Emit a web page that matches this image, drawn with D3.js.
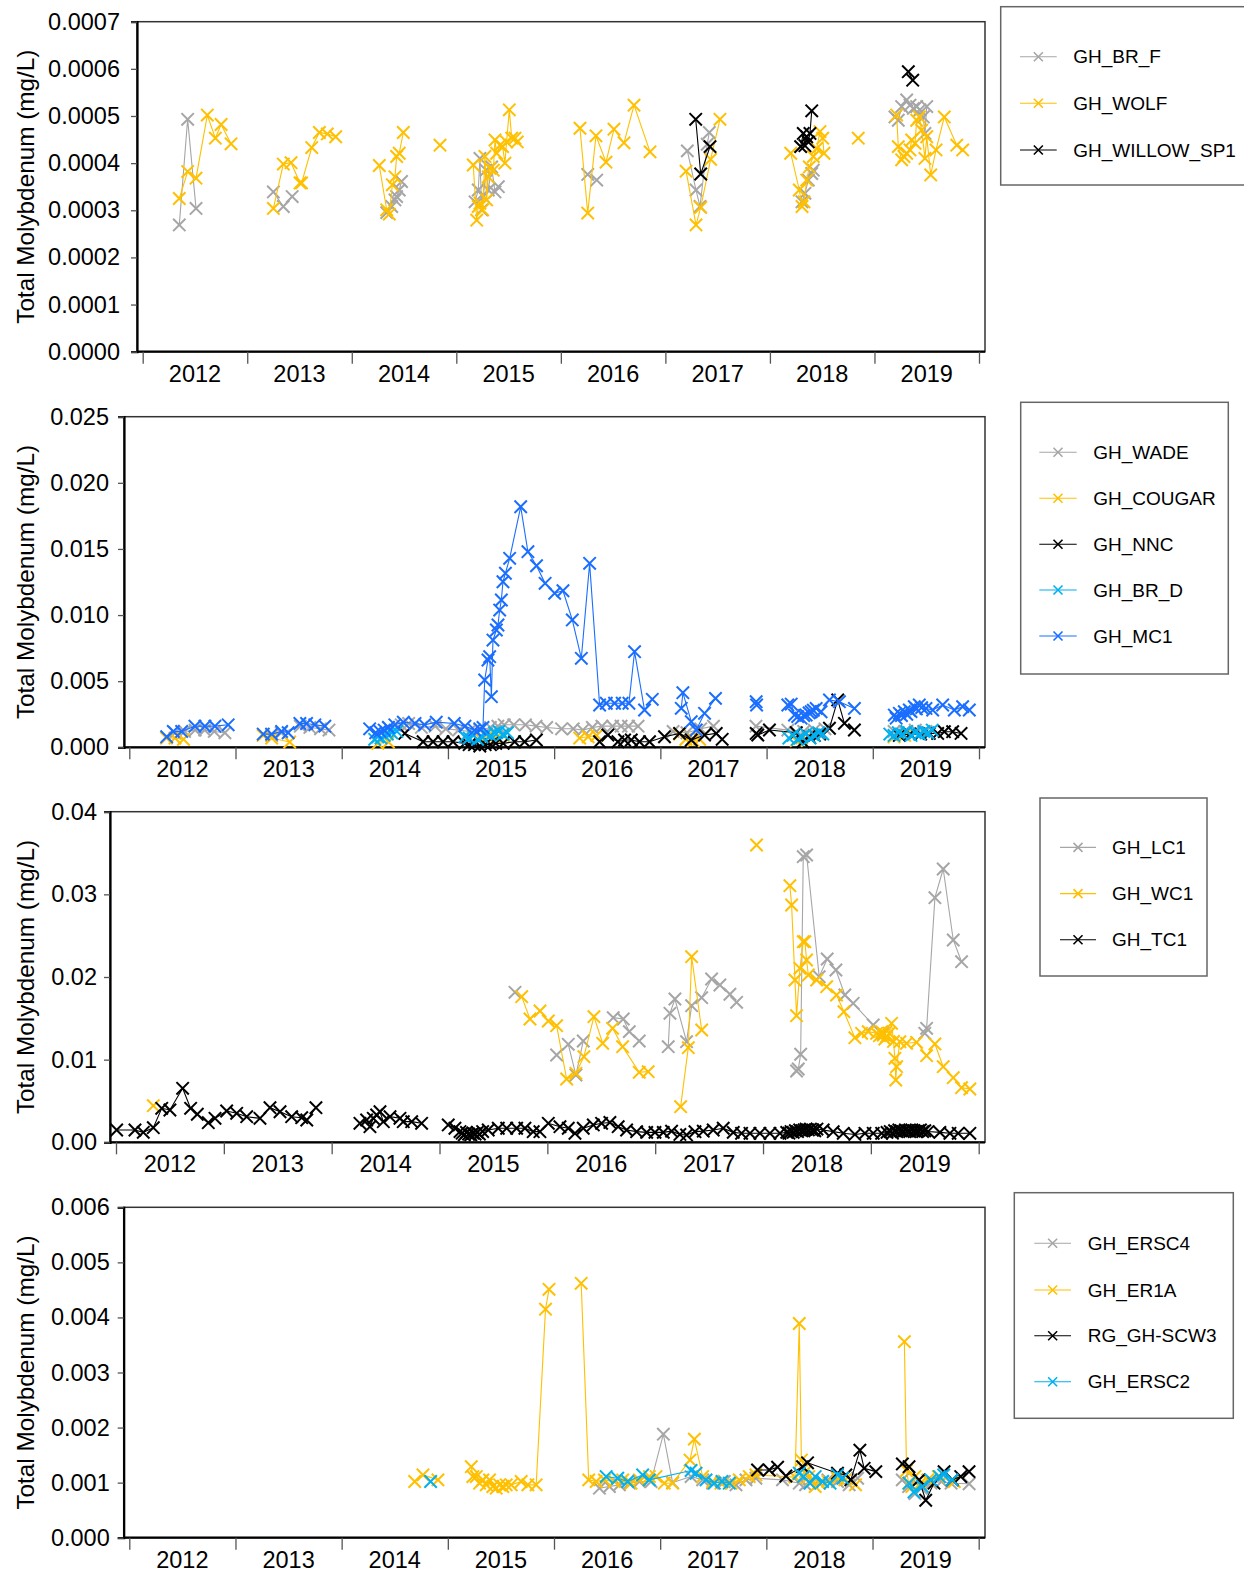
<!DOCTYPE html>
<html>
<head>
<meta charset="utf-8">
<script src="https://cdn.jsdelivr.net/npm/d3@7"></script>
<style>
  body { margin: 0; background: #fff; }
  svg { display: block; font-family: "Liberation Sans", Arial, sans-serif; }
</style>
</head>
<body>
<svg id="chart" width="1244" height="1574"></svg>
<script>
// ---- Axis labels -------------------------------------------------------
const yearLabels = ["2012", "2013", "2014", "2015", "2016", "2017", "2018", "2019"];
const yTitle = "Total Molybdenum (mg/L)";
const ticksP1 = [0, 0.0001, 0.0002, 0.0003, 0.0004, 0.0005, 0.0006, 0.0007];
const ticksP2 = [0, 0.005, 0.010, 0.015, 0.020, 0.025];
const ticksP3 = [0, 0.01, 0.02, 0.03, 0.04];
const ticksP4 = [0, 0.001, 0.002, 0.003, 0.004, 0.005, 0.006];

// ---- Panel 1 : [decimal year, mg/L], null = gap in sampling ------------
const GH_BR_F = [
  [2012.35,0.000269],[2012.43,0.000493],[2012.51,0.000304], null,
  [2013.25,0.000339],[2013.345,0.000308],[2013.43,0.000329], null,
  [2014.334,0.000295],[2014.382,0.000308],[2014.413,0.000322],[2014.429,0.000329],[2014.454,0.000343],[2014.476,0.000361], null,
  [2015.179,0.000318],[2015.21,0.000343],[2015.226,0.00041],[2015.243,0.000301],[2015.258,0.000329],[2015.284,0.000385],[2015.306,0.000343],[2015.338,0.000392],[2015.37,0.000339],[2015.402,0.00035], null,
  [2016.257,0.000376],[2016.343,0.000364], null,
  [2017.21,0.000426],[2017.293,0.000343],[2017.331,0.000308],[2017.40,0.00044],[2017.42,0.000465], null,
  [2018.307,0.000318],[2018.335,0.000336],[2018.367,0.000364],[2018.40,0.000378],[2018.415,0.000385], null,
  [2019.196,0.000498],[2019.228,0.000491],[2019.26,0.00052],[2019.308,0.000534],[2019.34,0.000523],[2019.372,0.000516],[2019.404,0.00052],[2019.435,0.000513],[2019.467,0.000498],[2019.483,0.000463],[2019.5,0.00052]
];
const GH_WOLF = [
  [2012.35,0.000325],[2012.43,0.000382],[2012.51,0.000368],[2012.618,0.000502],[2012.695,0.000453],[2012.75,0.000482],[2012.845,0.000441], null,
  [2013.25,0.000304],[2013.345,0.000398],[2013.419,0.000401],[2013.505,0.000358],[2013.52,0.000358],[2013.617,0.000433],[2013.69,0.000465],[2013.766,0.000462],[2013.846,0.000456], null,
  [2014.263,0.000395],[2014.334,0.000301],[2014.359,0.000292],[2014.388,0.000354],[2014.413,0.000371],[2014.429,0.000414],[2014.454,0.000421],[2014.493,0.000465], null,
  [2014.844,0.000438], null,
  [2015.162,0.000396],[2015.195,0.000279],[2015.21,0.000308],[2015.226,0.000315],[2015.252,0.000301],[2015.274,0.000414],[2015.29,0.000322],[2015.306,0.000371],[2015.322,0.000389],[2015.354,0.000385],[2015.37,0.000449],[2015.386,0.000421],[2015.418,0.000438],[2015.443,0.000435],[2015.465,0.0004],[2015.481,0.000445],[2015.507,0.000513],[2015.53,0.000453],[2015.561,0.000453],[2015.583,0.000445], null,
  [2016.183,0.000474],[2016.257,0.000294],[2016.336,0.000458],[2016.432,0.000402],[2016.508,0.000472],[2016.604,0.000443],[2016.70,0.000523],[2016.853,0.000424], null,
  [2017.198,0.000383],[2017.293,0.000269],[2017.338,0.000306],[2017.433,0.000408],[2017.522,0.000493], null,
  [2018.199,0.000421],[2018.281,0.000343],[2018.307,0.000308],[2018.326,0.000318],[2018.352,0.000364],[2018.377,0.000392],[2018.415,0.000414],[2018.447,0.000431],[2018.479,0.000467],[2018.505,0.000453],[2018.517,0.000421], null,
  [2018.845,0.000453], null,
  [2019.212,0.000502],[2019.228,0.000435],[2019.26,0.000407],[2019.282,0.000414],[2019.308,0.000421],[2019.34,0.000428],[2019.356,0.000449],[2019.388,0.000442],[2019.404,0.000491],[2019.429,0.000498],[2019.451,0.00047],[2019.483,0.00041],[2019.5,0.000456],[2019.538,0.000375],[2019.589,0.000428],[2019.668,0.000498],[2019.787,0.000438],[2019.844,0.000428]
];
const GH_WILLOW_SP1 = [
  [2017.29,0.000493],[2017.338,0.000377],[2017.427,0.000435], null,
  [2018.294,0.000435],[2018.319,0.000463],[2018.335,0.000437],[2018.352,0.000456],[2018.367,0.000445],[2018.383,0.000463],[2018.40,0.000511], null,
  [2019.324,0.000594],[2019.366,0.000576]
];

// ---- Panel 2 -----------------------------------------------------------
const GH_WADE = [
  [2012.43,0.0011],[2012.52,0.0012],[2012.62,0.0013],[2012.71,0.0013],[2012.80,0.0012],[2012.90,0.0011], null,
  [2013.34,0.0009],[2013.43,0.0011],[2013.61,0.0016],[2013.70,0.0015],[2013.80,0.0014],[2013.88,0.0013], null,
  [2014.44,0.0015],[2014.56,0.0017],[2014.63,0.0018],[2014.75,0.0015],[2014.88,0.0016],[2014.98,0.0014],[2015.10,0.0013],[2015.20,0.0012],[2015.30,0.0013],[2015.40,0.0015],[2015.47,0.0016],[2015.53,0.0017],[2015.62,0.0017],[2015.73,0.0017],[2015.83,0.0016],[2015.93,0.0015],[2016.07,0.0014],[2016.18,0.0014],[2016.27,0.0013],[2016.36,0.0015],[2016.45,0.0016],[2016.55,0.0016],[2016.63,0.0016],[2016.70,0.0016],[2016.79,0.0016], null,
  [2017.12,0.0012],[2017.25,0.0011],[2017.38,0.0014],[2017.50,0.0016], null,
  [2017.90,0.0016],[2018.20,0.0013],[2018.27,0.0011],[2018.35,0.0012],[2018.45,0.0013],[2018.55,0.0014], null,
  [2019.20,0.0012],[2019.30,0.0012],[2019.40,0.0013],[2019.50,0.0012]
];
const GH_COUGAR = [
  [2012.35,0.0007],[2012.43,0.0007],[2012.51,0.0006], null,
  [2013.26,0.0009],[2013.34,0.0007],[2013.51,0.0004], null,
  [2014.34,0.0003],[2014.44,0.0004], null,
  [2015.30,0.0007],[2015.38,0.0008],[2015.45,0.0007],[2015.52,0.0009], null,
  [2016.24,0.0007],[2016.32,0.0008],[2016.40,0.0009], null,
  [2017.18,0.0010],[2017.24,0.0006],[2017.31,0.0005],[2017.37,0.0006], null,
  [2018.28,0.0005],[2018.33,0.0007],[2018.40,0.0008], null,
  [2019.20,0.0008],[2019.30,0.0009]
];
const GH_NNC = [
  [2014.594,0.00105],[2014.766,0.00042],[2014.86,0.00042],[2014.954,0.00042],[2015.048,0.00042],[2015.158,0.0003],[2015.20,0.0002],[2015.25,0.0002],[2015.30,0.0001],[2015.35,0.0002],[2015.40,0.0002],[2015.45,0.0003],[2015.52,0.0003],[2015.628,0.00042],[2015.722,0.00042],[2015.833,0.00055], null,
  [2016.428,0.00042],[2016.506,0.00093],[2016.60,0.00042],[2016.663,0.00055],[2016.726,0.00055],[2016.804,0.00042],[2016.898,0.00042],[2017.039,0.0008],[2017.181,0.00105],[2017.291,0.00055],[2017.416,0.00093],[2017.526,0.00105],[2017.582,0.0006], null,
  [2017.902,0.00105],[2017.917,0.00093],[2018.027,0.00131],[2018.28,0.0011],[2018.341,0.00042],[2018.40,0.0008],[2018.45,0.0009],[2018.50,0.0010],[2018.592,0.00144],[2018.67,0.00358],[2018.733,0.00181],[2018.827,0.00131], null,
  [2019.25,0.0009],[2019.35,0.0010],[2019.45,0.0010],[2019.532,0.00105],[2019.611,0.00105],[2019.674,0.00118],[2019.752,0.00118],[2019.831,0.00105]
];
const GH_BR_D = [
  [2014.31,0.0006],[2014.34,0.0008],[2014.37,0.0007],[2014.40,0.0009],[2014.43,0.0010],[2014.47,0.0011],[2014.52,0.0012], null,
  [2015.16,0.0008],[2015.20,0.0007],[2015.24,0.0009],[2015.28,0.0006],[2015.32,0.0008],[2015.36,0.0010],[2015.40,0.0009],[2015.44,0.0011],[2015.48,0.0012],[2015.52,0.0010],[2015.56,0.0011], null,
  [2018.21,0.0007],[2018.25,0.0009],[2018.29,0.0006],[2018.33,0.0008],[2018.37,0.0010],[2018.41,0.0007],[2018.45,0.0009],[2018.49,0.0011],[2018.53,0.0010], null,
  [2019.16,0.0010],[2019.20,0.0009],[2019.24,0.0011],[2019.28,0.0010],[2019.32,0.0012],[2019.36,0.0009],[2019.40,0.0011],[2019.44,0.0010],[2019.48,0.0012],[2019.52,0.0011],[2019.56,0.0013]
];
const GH_MC1 = [
  [2012.352,0.0008],[2012.414,0.0012],[2012.493,0.0012],[2012.618,0.0016],[2012.712,0.0016],[2012.806,0.0016],[2012.931,0.0017], null,
  [2013.261,0.0010],[2013.34,0.0010],[2013.434,0.0012],[2013.496,0.0011],[2013.606,0.0018],[2013.669,0.0018],[2013.747,0.0017],[2013.841,0.0016], null,
  [2014.263,0.0014],[2014.32,0.0011],[2014.36,0.0012],[2014.40,0.0013],[2014.44,0.0015],[2014.50,0.0017],[2014.58,0.0019],[2014.69,0.0018],[2014.78,0.0017],[2014.89,0.0019],[2015.06,0.0018],[2015.16,0.0016],[2015.25,0.0013],[2015.30,0.0014],[2015.33,0.0015],
  [2015.346,0.00509],[2015.377,0.0066],[2015.393,0.00685],[2015.409,0.00383],[2015.424,0.00811],[2015.456,0.00887],[2015.471,0.00925],[2015.487,0.01038],[2015.503,0.01114],[2015.518,0.01252],[2015.541,0.01316],[2015.581,0.01429],[2015.685,0.01819],[2015.753,0.01479],[2015.834,0.01373],[2015.915,0.0124],[2016.005,0.01165],[2016.083,0.01184],[2016.171,0.00963],[2016.256,0.00673],[2016.334,0.01391],[2016.428,0.0032],[2016.491,0.00333],[2016.569,0.00333],[2016.641,0.00333],[2016.704,0.00333],[2016.757,0.00723],[2016.851,0.00282],[2016.924,0.00363], null,
  [2017.197,0.00295],[2017.212,0.00413],[2017.291,0.00194],[2017.338,0.00131],[2017.416,0.00257],[2017.519,0.0037], null,
  [2017.902,0.00345],[2017.906,0.0032], null,
  [2018.20,0.0032],[2018.232,0.00327],[2018.263,0.00244],[2018.293,0.00232],[2018.325,0.0022],[2018.35,0.0024],[2018.373,0.00244],[2018.40,0.0026],[2018.42,0.00269],[2018.44,0.0028],[2018.467,0.00294],[2018.513,0.00269],[2018.592,0.00358],[2018.686,0.00345],[2018.827,0.00294], null,
  [2019.203,0.00244],[2019.22,0.0022],[2019.25,0.00257],[2019.27,0.0024],[2019.297,0.00269],[2019.32,0.0025],[2019.344,0.00282],[2019.36,0.0027],[2019.391,0.00307],[2019.41,0.0029],[2019.438,0.0032],[2019.46,0.0030],[2019.501,0.00294],[2019.564,0.00282],[2019.658,0.0032],[2019.768,0.00282],[2019.846,0.00307],[2019.909,0.00282]
];

// ---- Panel 3 -----------------------------------------------------------
const GH_LC1 = [
  [2015.70,0.01815], null,
  [2016.086,0.01056],[2016.194,0.01185],[2016.265,0.00814],[2016.333,0.01226], null,
  [2016.611,0.01508],[2016.704,0.01492],[2016.76,0.01339],[2016.852,0.01226], null,
  [2017.121,0.01157],[2017.137,0.01561],[2017.183,0.01734],[2017.291,0.01218],[2017.338,0.01653],[2017.431,0.0175],[2017.523,0.01976],[2017.60,0.01903],[2017.693,0.01791],[2017.755,0.01694], null,
  [2018.311,0.00863],[2018.327,0.00887],[2018.349,0.01065],[2018.373,0.03456],[2018.404,0.03476],[2018.521,0.02004],[2018.595,0.02218],[2018.676,0.02085],[2018.759,0.01782],[2018.836,0.01682],[2019.022,0.01419],[2019.115,0.01319], null,
  [2019.50,0.01319],[2019.517,0.01379],[2019.594,0.0296],[2019.671,0.03307],[2019.764,0.02448],[2019.841,0.02185]
];
const GH_WC1 = [
  [2012.346,0.00443], null,
  [2015.762,0.01762],[2015.839,0.01492],[2015.932,0.01589],[2016.009,0.01468],[2016.086,0.01411],[2016.179,0.00766],[2016.265,0.00835],[2016.339,0.01036],[2016.432,0.0152],[2016.513,0.01198],[2016.605,0.01379],[2016.698,0.01157],[2016.852,0.00847],[2016.935,0.00855], null,
  [2017.236,0.00431],[2017.307,0.01145],[2017.338,0.02246],[2017.431,0.01359], null,
  [2017.94,0.03597], null,
  [2018.249,0.03105],[2018.265,0.02871],[2018.296,0.01964],[2018.311,0.01532],[2018.342,0.02105],[2018.373,0.02427],[2018.388,0.02427],[2018.404,0.02206],[2018.42,0.02024],[2018.497,0.01964],[2018.59,0.01883],[2018.682,0.01782],[2018.75,0.0158],[2018.852,0.01266],[2018.914,0.01319],[2018.976,0.01339],[2019.053,0.01319],[2019.08,0.0129],[2019.10,0.0134],[2019.115,0.01298],[2019.13,0.0125],[2019.146,0.01279],[2019.17,0.0132],[2019.192,0.0144],[2019.21,0.0122],[2019.223,0.01016],[2019.231,0.00754],[2019.239,0.00915],[2019.269,0.01218],[2019.331,0.01198],[2019.424,0.0121],[2019.517,0.01048],[2019.594,0.0119],[2019.671,0.00915],[2019.764,0.00782],[2019.841,0.00661],[2019.918,0.00645]
];
const GH_TC1 = [
  [2012.006,0.00149],[2012.176,0.00149],[2012.253,0.00121],[2012.346,0.00177],[2012.424,0.00411],[2012.50,0.00391],[2012.618,0.00653],[2012.692,0.00411],[2012.754,0.00339],[2012.856,0.00237],[2012.918,0.0029],[2013.026,0.00379],[2013.119,0.00351],[2013.212,0.0031],[2013.335,0.0029],[2013.428,0.00419],[2013.521,0.0037],[2013.629,0.0031],[2013.722,0.00298],[2013.769,0.0027],[2013.854,0.00419], null,
  [2014.262,0.0023],[2014.324,0.0027],[2014.355,0.00189],[2014.386,0.0029],[2014.417,0.0033],[2014.448,0.0037],[2014.479,0.0025],[2014.541,0.0031],[2014.633,0.0029],[2014.664,0.0025],[2014.742,0.0025],[2014.834,0.0023], null,
  [2015.081,0.0021],[2015.143,0.0017],[2015.19,0.0013],[2015.21,0.0011],[2015.23,0.0009],[2015.25,0.0012],[2015.27,0.0010],[2015.29,0.0009],[2015.31,0.0011],[2015.33,0.0010],[2015.35,0.0012],[2015.37,0.0010],[2015.40,0.0013],[2015.452,0.00149],[2015.545,0.0017],[2015.623,0.0017],[2015.715,0.0017],[2015.792,0.0017],[2015.869,0.00129],[2015.931,0.00129],[2016.009,0.0023],
  [2016.117,0.00189],[2016.194,0.0017],[2016.256,0.00109],[2016.333,0.0017],[2016.426,0.0021],[2016.503,0.0023],[2016.58,0.0024],[2016.657,0.00189],[2016.735,0.00149],[2016.828,0.00129],[2016.921,0.0012],[2016.998,0.0012],[2017.075,0.0012],[2017.152,0.00135],[2017.229,0.00095],[2017.291,0.00089],[2017.369,0.00129],[2017.446,0.00135],[2017.538,0.00149],[2017.631,0.0017],[2017.724,0.0012],[2017.801,0.00109],[2017.879,0.00109],[2017.971,0.00109],[2018.064,0.00109],[2018.157,0.00109],
  [2018.22,0.0012],[2018.24,0.0011],[2018.26,0.0013],[2018.28,0.0012],[2018.30,0.0014],[2018.32,0.0013],[2018.34,0.0015],[2018.36,0.0014],[2018.38,0.0015],[2018.40,0.0016],[2018.42,0.0015],[2018.44,0.0016],[2018.46,0.0015],[2018.48,0.0014],[2018.50,0.0016],[2018.558,0.00149],[2018.651,0.00129],[2018.744,0.00109],[2018.852,0.00095],[2018.945,0.00109],[2019.022,0.00109],[2019.10,0.00109],
  [2019.15,0.0012],[2019.18,0.0013],[2019.20,0.0011],[2019.22,0.0014],[2019.24,0.0013],[2019.26,0.0015],[2019.28,0.0014],[2019.30,0.0013],[2019.32,0.0015],[2019.34,0.0014],[2019.36,0.0013],[2019.38,0.0015],[2019.40,0.0014],[2019.42,0.0013],[2019.44,0.0014],[2019.46,0.0015],[2019.48,0.0013],[2019.50,0.0014],[2019.53,0.0013],[2019.64,0.0012],[2019.733,0.00109],[2019.81,0.00109],[2019.918,0.00109]
];

// ---- Panel 4 -----------------------------------------------------------
const GH_ERSC4 = [
  [2016.428,0.0009],[2016.522,0.00093],[2016.616,0.00096],[2016.71,0.00099],[2016.804,0.00102],[2016.914,0.00102],[2017.03,0.00188],[2017.117,0.001],[2017.291,0.00111],[2017.40,0.00105],[2017.494,0.00099],[2017.604,0.00102],[2017.714,0.00096],[2017.808,0.00105],[2017.902,0.00108],[2018.152,0.00105],[2018.31,0.00099],[2018.37,0.00096],[2018.43,0.00102],[2018.50,0.00099],[2018.58,0.00105],[2018.67,0.00102],[2018.78,0.00096],[2018.86,0.00108], null,
  [2019.28,0.00105],[2019.34,0.00093],[2019.40,0.00080],[2019.46,0.00090],[2019.55,0.00099],[2019.65,0.00102],[2019.74,0.00099],[2019.91,0.00098]
];
const GH_ER1A = [
  [2014.688,0.00102],[2014.766,0.00114],[2014.907,0.00105], null,
  [2015.221,0.00129],[2015.236,0.00111],[2015.268,0.00111],[2015.299,0.00099],[2015.33,0.00105],[2015.362,0.00096],[2015.393,0.00105],[2015.424,0.00093],[2015.456,0.0009],[2015.487,0.00096],[2015.518,0.00093],[2015.55,0.00096],[2015.597,0.00096],[2015.691,0.00102],[2015.754,0.00096],[2015.832,0.00096],[2015.92,0.00415],[2015.953,0.00451], null,
  [2016.256,0.00462],[2016.327,0.00105],[2016.397,0.00102],[2016.475,0.00105],[2016.569,0.00102],[2016.647,0.00105],[2016.726,0.00099],[2016.804,0.00105],[2016.898,0.00111],[2016.961,0.00111],[2017.039,0.00099],[2017.117,0.00099],[2017.281,0.00141],[2017.322,0.00179],[2017.40,0.00111],[2017.494,0.00102],[2017.573,0.00099],[2017.667,0.00099],[2017.745,0.00105],[2017.839,0.00111],[2017.902,0.00114],[2018.27,0.0011],[2018.31,0.00389],[2018.33,0.00141],[2018.37,0.0012],[2018.40,0.00111],[2018.43,0.00105],[2018.46,0.00093],[2018.50,0.00099],[2018.58,0.00102],[2018.67,0.00108],[2018.74,0.00105],[2018.84,0.00096], null,
  [2019.30,0.00356],[2019.32,0.00122],[2019.34,0.00099],[2019.37,0.00093],[2019.40,0.00111],[2019.45,0.00099],[2019.52,0.00105],[2019.62,0.00111],[2019.77,0.00102]
];
const RG_GH_SCW3 = [
  [2017.917,0.00123],[2018.027,0.00123],[2018.106,0.00128],[2018.184,0.00112],[2018.341,0.00129],[2018.388,0.00136],[2018.67,0.00117],[2018.749,0.00114],[2018.796,0.00105],[2018.881,0.00159],[2018.921,0.00126],[2019.031,0.0012], null,
  [2019.281,0.00134],[2019.344,0.00129],[2019.438,0.00105],[2019.501,0.00068],[2019.579,0.00099],[2019.674,0.0012],[2019.752,0.00105],[2019.831,0.00111],[2019.909,0.0012]
];
const GH_ERSC2 = [
  [2014.838,0.00102], null,
  [2016.491,0.00111],[2016.60,0.00108],[2016.694,0.00102],[2016.835,0.00114],[2016.898,0.00105],[2017.291,0.00122],[2017.338,0.00117],[2017.432,0.00105],[2017.51,0.00099],[2017.582,0.00102],[2017.651,0.00099], null,
  [2018.31,0.00117],[2018.35,0.00111],[2018.41,0.00099],[2018.46,0.00111],[2018.53,0.00102],[2018.60,0.00099],[2018.67,0.00114],[2018.72,0.00108], null,
  [2019.344,0.00099],[2019.39,0.00083],[2019.47,0.00093],[2019.55,0.00105],[2019.63,0.00111],[2019.67,0.00114],[2019.75,0.00105]
];

// ---- Styling -------------------------------------------------------------
const GRAY = "#a6a6a6", GOLD = "#ffc000", BLACK = "#000000", CYAN = "#00b0f0", BLUE = "#1a6eff";

const panels = [
  { box: { left: 137, top: 21.7, right: 985, bottom: 351.7 }, x2012: 142.7, x2020: 979,
    yMax: 0.0007, ticks: ticksP1, fmt: ".4f", pad: 11,
    legend: { x: 1000.7, y: 6.7, w: 262, h: 178.3, l0: 1020, l1: 1056.7, tx: 1073.3, rows: [56.7, 103.3, 150] },
    series: [["GH_BR_F", GH_BR_F, GRAY], ["GH_WOLF", GH_WOLF, GOLD], ["GH_WILLOW_SP1", GH_WILLOW_SP1, BLACK]] },
  { box: { left: 124, top: 416.7, right: 985, bottom: 747.3 }, x2012: 129.3, x2020: 979,
    yMax: 0.025, ticks: ticksP2, fmt: ".3f", pad: 9,
    legend: { x: 1020.7, y: 402.3, w: 207.6, h: 271.7, l0: 1039.3, l1: 1076.7, tx: 1093.3, rows: [452.3, 498.3, 544.3, 590, 636] },
    series: [["GH_WADE", GH_WADE, GRAY], ["GH_COUGAR", GH_COUGAR, GOLD], ["GH_NNC", GH_NNC, BLACK], ["GH_BR_D", GH_BR_D, CYAN], ["GH_MC1", GH_MC1, BLUE]] },
  { box: { left: 110, top: 811.7, right: 985, bottom: 1142.3 }, x2012: 116, x2020: 978.7,
    yMax: 0.04, ticks: ticksP3, fmt: ".2f", pad: 7,
    legend: { x: 1040, y: 798, w: 167, h: 178, l0: 1060, l1: 1096, tx: 1112, rows: [847.4, 893.6, 939.7] },
    series: [["GH_LC1", GH_LC1, GRAY], ["GH_WC1", GH_WC1, GOLD], ["GH_TC1", GH_TC1, BLACK]] },
  { box: { left: 123.7, top: 1207.3, right: 985, bottom: 1537.7 }, x2012: 129.3, x2020: 978.7,
    yMax: 0.006, ticks: ticksP4, fmt: ".3f", pad: 8,
    legend: { x: 1014.3, y: 1192.7, w: 219, h: 225.6, l0: 1034.3, l1: 1071, tx: 1087.7, rows: [1243.3, 1290, 1335.7, 1381.7] },
    series: [["GH_ERSC4", GH_ERSC4, GRAY], ["GH_ER1A", GH_ER1A, GOLD], ["RG_GH-SCW3", RG_GH_SCW3, BLACK], ["GH_ERSC2", GH_ERSC2, CYAN]] }
];

const svg = d3.select("#chart");
const crossPath = s => `M${-s},${-s}L${s},${s}M${-s},${s}L${s},${-s}`;

panels.forEach(p => {
  const b = p.box;
  const x = d3.scaleLinear().domain([2012, 2020]).range([p.x2012, p.x2020]);
  const y = d3.scaleLinear().domain([0, p.yMax]).range([b.bottom, b.top]);
  const g = svg.append("g");

  // frame
  g.append("rect").attr("x", b.left).attr("y", b.top)
    .attr("width", b.right - b.left).attr("height", b.bottom - b.top)
    .attr("fill", "none").attr("stroke", "#333").attr("stroke-width", 1.5);

  // y axis
  const ya = g.append("g").attr("transform", `translate(${b.left},0)`)
    .call(d3.axisLeft(y).tickValues(p.ticks).tickFormat(d3.format(p.fmt)).tickSize(6).tickPadding(p.pad));
  ya.select(".domain").attr("stroke", "#000").attr("stroke-width", 2.2);
  ya.selectAll(".tick line").attr("stroke", "#555").attr("stroke-width", 1.3);
  ya.selectAll(".tick text").attr("font-size", 23.5).attr("fill", "#000")
    .attr("font-family", "'Liberation Sans', Arial, sans-serif");

  // x axis: year boundaries as ticks, year names centred between them
  const xa = g.append("g").attr("transform", `translate(0,${b.bottom})`)
    .call(d3.axisBottom(x).tickValues(d3.range(2012, 2021)).tickFormat("").tickSize(12).tickSizeOuter(0));
  xa.select(".domain").attr("d", `M${b.left},0H${b.right}`).attr("stroke", "#000").attr("stroke-width", 2.2);
  xa.selectAll(".tick line").attr("stroke", "#555").attr("stroke-width", 1.3);
  g.selectAll(".yl").data(yearLabels).join("text")
    .attr("x", d => x(+d + 0.5)).attr("y", b.bottom + 30)
    .attr("text-anchor", "middle").attr("font-size", 23.5).text(d => d);

  // axis title
  g.append("text")
    .attr("transform", `translate(25,${(b.top + b.bottom) / 2}) rotate(-90)`)
    .attr("text-anchor", "middle").attr("dominant-baseline", "central")
    .attr("font-size", 24.3).text(yTitle);

  // series: line then symbols, in legend order
  const line = d3.line().defined(d => d !== null).x(d => x(d[0])).y(d => y(d[1]));
  p.series.forEach(([name, data, color]) => {
    g.append("path").attr("d", line(data)).attr("fill", "none")
      .attr("stroke", color).attr("stroke-width", 1.1);
    g.append("g").selectAll("path").data(data.filter(d => d !== null)).join("path")
      .attr("transform", d => `translate(${x(d[0])},${y(d[1])})`)
      .attr("d", crossPath(6.2)).attr("stroke", color).attr("stroke-width", 2).attr("fill", "none");
  });

  // legend
  const L = p.legend;
  const lg = g.append("g");
  lg.append("rect").attr("x", L.x).attr("y", L.y).attr("width", L.w).attr("height", L.h)
    .attr("fill", "#fff").attr("stroke", "#666").attr("stroke-width", 1.5);
  p.series.forEach(([name, , color], i) => {
    const cy = L.rows[i], cx = (L.l0 + L.l1) / 2;
    lg.append("line").attr("x1", L.l0).attr("x2", L.l1).attr("y1", cy).attr("y2", cy)
      .attr("stroke", color).attr("stroke-width", 1.1);
    lg.append("path").attr("transform", `translate(${cx},${cy})`).attr("d", crossPath(4.5))
      .attr("stroke", color).attr("stroke-width", 1.6).attr("fill", "none");
    lg.append("text").attr("x", L.tx).attr("y", cy).attr("dy", "0.35em")
      .attr("font-size", 19).text(name);
  });
});
</script>
</body>
</html>
